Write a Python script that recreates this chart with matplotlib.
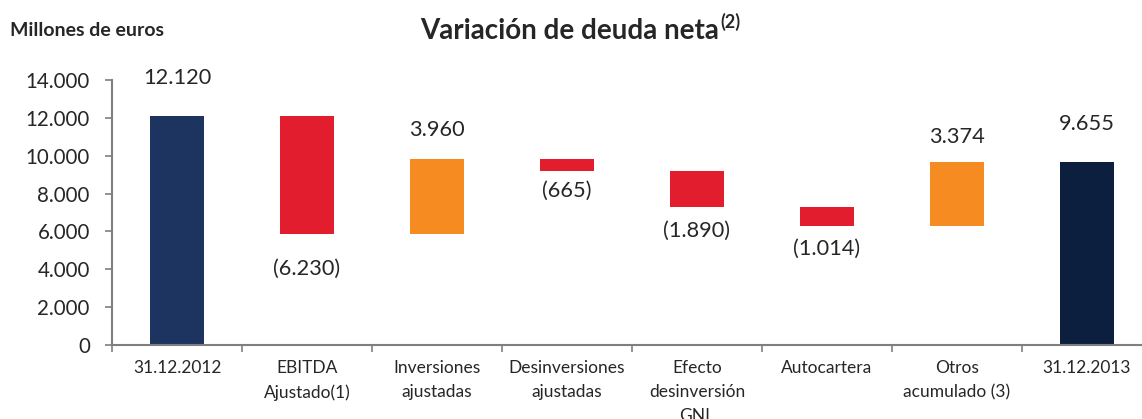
import matplotlib
matplotlib.use('Agg')
import matplotlib.pyplot as plt

plt.rcParams['font.family'] = ['Lato', 'DejaVu Sans']

categories = ['31.12.2012', 'EBITDA\nAjustado(1)', 'Inversiones\najustadas',
              'Desinversiones\najustadas', 'Efecto\ndesinversión\nGNL',
              'Autocartera', 'Otros\nacumulado (3)', '31.12.2013']
changes = [12120, -6230, 3960, -665, -1890, -1014, 3374]
final_value = 9655
value_labels = ['12.120', '(6.230)', '3.960', '(665)', '(1.890)', '(1.014)', '3.374', '9.655']
yticks = [0, 2000, 4000, 6000, 8000, 10000, 12000, 14000]
ytick_labels = ['0', '2.000', '4.000', '6.000', '8.000', '10.000', '12.000', '14.000']

NAVY = '#1d3461'
DARK = '#0c1f3f'
RED = '#e11d2e'
ORANGE = '#f68b21'
GRAY = '#7f7f7f'

# waterfall bottoms / heights
bottoms, heights, colors = [], [], []
level = 0
for i, c in enumerate(changes):
    if i == 0:
        bottoms.append(0)
        heights.append(c)
        colors.append(NAVY)
    else:
        bottoms.append(level if c > 0 else level + c)
        heights.append(abs(c))
        colors.append(ORANGE if c > 0 else RED)
    level += c
bottoms.append(0)
heights.append(final_value)
colors.append(DARK)

fig = plt.figure(figsize=(11.42, 4.19), dpi=100)
ax = fig.add_axes([112 / 1142, 1 - 345 / 419, 1040 / 1142, 265 / 419])

x = range(len(categories))
ax.bar(x, heights, bottom=bottoms, width=0.41, color=colors, zorder=2)

# labels: above positive bars, below negative ones (pixel offsets)
offsets = [38, -35, 29, -20, -24, -23, 25, 38]
for i, lab in enumerate(value_labels):
    if offsets[i] > 0:
        y = bottoms[i] + heights[i]
    else:
        y = bottoms[i]
    ax.annotate(lab, (i, y), xytext=(0, offsets[i] * 0.72), textcoords='offset points',
                ha='center', va='center', fontsize=15.7, color='#262626')

ax.set_xlim(-0.5, len(categories) - 0.5)
ax.set_ylim(0, 14000)
ax.set_yticks(yticks)
ax.set_yticklabels(ytick_labels, fontsize=14.8, color='#262626')
ax.set_xticks([i - 0.5 for i in range(len(categories) + 1)])
ax.set_xticklabels([])
ax.set_xticks(list(x), minor=True)
ax.set_xticklabels(categories, minor=True, fontsize=12.5, color='#262626', linespacing=1.6, va='top')
ax.tick_params(axis='x', which='minor', length=0, pad=11)
ax.tick_params(axis='x', which='major', length=5, color=GRAY, width=1.2)
ax.tick_params(axis='y', length=5, color=GRAY, width=1.2, pad=11)

for s in ['top', 'right']:
    ax.spines[s].set_visible(False)
for s in ['left', 'bottom']:
    ax.spines[s].set_color(GRAY)
    ax.spines[s].set_linewidth(1.5)

fig.text(10 / 1142, 1 - 30 / 419, 'Millones de euros', fontsize=14, fontweight='bold',
         color='#262626', va='center', ha='left')
t = fig.text(0.499, 1 - 31 / 419, 'Variación de deuda neta', fontsize=20, fontweight='bold',
             color='#262626', va='center', ha='center')
fig.canvas.draw()
bb = t.get_window_extent()
fig.text(bb.x1 / fig.bbox.width + 0.001, bb.y1 / fig.bbox.height + 0.012, '(2)', fontsize=13,
         fontweight='bold', color='#262626', va='top', ha='left')

fig.savefig('out.png', dpi=100)
